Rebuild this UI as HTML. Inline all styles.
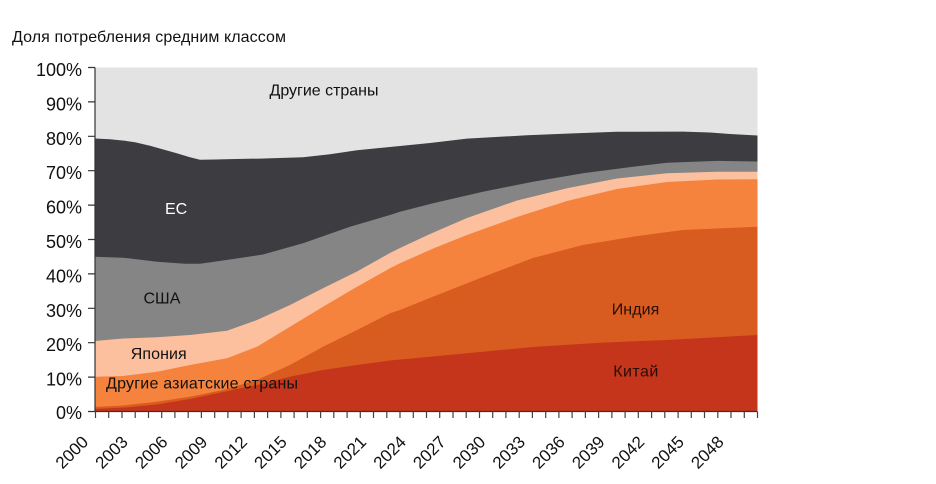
<!DOCTYPE html>
<html>
<head>
<meta charset="utf-8">
<style>
  html, body { margin: 0; padding: 0; background: #ffffff; }
  svg { display: block; }
  text { font-family: "Liberation Sans", "Noto Sans CJK SC", sans-serif; }
</style>
</head>
<body>
<svg width="936" height="484" viewBox="0 0 936 484" xmlns="http://www.w3.org/2000/svg">
  <rect x="0" y="0" width="936" height="484" fill="#ffffff"/>
  <text x="12" y="42" font-size="16" fill="#111" textLength="274" lengthAdjust="spacing">Доля потребления средним классом</text>

  <rect x="95" y="67.5" width="662.5" height="344" fill="#e3e3e3"/>
  <path fill="#3d3d41" d="M95,138.5 L110,139.3 L125,140.8 L135,142.3 L150,145.8 L175,152.8 L190,157.3 L200,159.8 L215,159.5 L230,159.1 L260,158.6 L303,157.3 L330,154.2 L357,150.3 L400,146 L430,143 L467,138.6 L500,136.8 L527,135.2 L573,133.4 L617,131.8 L683,131.6 L710,132.5 L730,134 L757.5,135.5 L757.5,411.5 L95,411.5 Z"/>
  <path fill="#858585" d="M95,256.7 L123,257.7 L157,261.7 L185,263.8 L200,263.8 L223,260.5 L263,254.5 L303,243.3 L350,226.7 L390,215 L400,211.7 L433,203.3 L483,191.7 L533,181.7 L583,173.3 L633,166.7 L667,162.7 L717,160.9 L757.5,161.5 L757.5,411.5 L95,411.5 Z"/>
  <path fill="#fcc09e" d="M95,341 L123,338.5 L157,337.3 L190,335 L227,330.7 L257,320 L290,305 L323,288.3 L357,271.5 L390,253 L400,248 L430,234 L467,218 L517,200.5 L567,188.3 L617,178.5 L667,173.3 L717,171.7 L757.5,171.7 L757.5,411.5 L95,411.5 Z"/>
  <path fill="#f5823d" d="M95,376.7 L123,376 L157,371.7 L190,365 L227,358.3 L257,346.7 L290,326.7 L323,306.7 L357,286.7 L390,268.3 L400,263.3 L432,249 L467,235 L517,217 L567,201 L617,189 L667,182 L717,179.5 L757.5,179.3 L757.5,411.5 L95,411.5 Z"/>
  <path fill="#d85b1f" d="M95,407 L123,405.5 L157,401.7 L190,396.7 L223,390 L257,380 L290,365 L323,346.7 L357,330 L390,313.3 L400,310 L431,297.5 L483,277 L533,258 L583,245 L633,236.7 L683,230 L757.5,226.7 L757.5,411.5 L95,411.5 Z"/>
  <path fill="#c4351b" d="M95,409 L125,407.5 L157,404.5 L190,399 L223,392 L257,385 L290,376.7 L323,370 L357,365 L390,360.5 L430,356.7 L467,353.3 L533,347 L600,342.7 L667,340 L757.5,335 L757.5,411.5 L95,411.5 Z"/>

  <path stroke="#333" stroke-width="1.2" fill="none" d="M95,67.5 V411.5 M88,411.5 H757.5 M88,67.5 H95 M88,101.9 H95 M88,136.3 H95 M88,170.7 H95 M88,205.1 H95 M88,239.5 H95 M88,273.9 H95 M88,308.3 H95 M88,342.7 H95 M88,377.1 H95"/>
  <path stroke="#444" stroke-width="1.2" fill="none" d="M95.5,411.5 v6.5 M108.7,411.5 v6.5 M122,411.5 v6.5 M135.2,411.5 v6.5 M148.5,411.5 v6.5 M161.7,411.5 v6.5 M174.9,411.5 v6.5 M188.2,411.5 v6.5 M201.4,411.5 v6.5 M214.7,411.5 v6.5 M227.9,411.5 v6.5 M241.1,411.5 v6.5 M254.4,411.5 v6.5 M267.6,411.5 v6.5 M280.9,411.5 v6.5 M294.1,411.5 v6.5 M307.3,411.5 v6.5 M320.6,411.5 v6.5 M333.8,411.5 v6.5 M347.1,411.5 v6.5 M360.3,411.5 v6.5 M373.5,411.5 v6.5 M386.8,411.5 v6.5 M400,411.5 v6.5 M413.3,411.5 v6.5 M426.5,411.5 v6.5 M439.7,411.5 v6.5 M453,411.5 v6.5 M466.2,411.5 v6.5 M479.5,411.5 v6.5 M492.7,411.5 v6.5 M505.9,411.5 v6.5 M519.2,411.5 v6.5 M532.4,411.5 v6.5 M545.7,411.5 v6.5 M558.9,411.5 v6.5 M572.1,411.5 v6.5 M585.4,411.5 v6.5 M598.6,411.5 v6.5 M611.9,411.5 v6.5 M625.1,411.5 v6.5 M638.3,411.5 v6.5 M651.6,411.5 v6.5 M664.8,411.5 v6.5 M678.1,411.5 v6.5 M691.3,411.5 v6.5 M704.5,411.5 v6.5 M717.8,411.5 v6.5 M731,411.5 v6.5 M744.3,411.5 v6.5 M757.5,411.5 v6.5"/>

  <g font-size="18" fill="#111" text-anchor="end">
    <text x="82" y="76">100%</text>
    <text x="82" y="110.4">90%</text>
    <text x="82" y="144.8">80%</text>
    <text x="82" y="179.2">70%</text>
    <text x="82" y="213.6">60%</text>
    <text x="82" y="248">50%</text>
    <text x="82" y="282.4">40%</text>
    <text x="82" y="316.8">30%</text>
    <text x="82" y="351.2">20%</text>
    <text x="82" y="385.6">10%</text>
    <text x="82" y="419">0%</text>
  </g>

  <g font-size="17" fill="#111" text-anchor="end">
    <text transform="translate(89.3,443) rotate(-45)">2000</text>
    <text transform="translate(129,443) rotate(-45)">2003</text>
    <text transform="translate(168.7,443) rotate(-45)">2006</text>
    <text transform="translate(208.5,443) rotate(-45)">2009</text>
    <text transform="translate(248.2,443) rotate(-45)">2012</text>
    <text transform="translate(287.9,443) rotate(-45)">2015</text>
    <text transform="translate(327.6,443) rotate(-45)">2018</text>
    <text transform="translate(367.3,443) rotate(-45)">2021</text>
    <text transform="translate(407.1,443) rotate(-45)">2024</text>
    <text transform="translate(446.8,443) rotate(-45)">2027</text>
    <text transform="translate(486.5,443) rotate(-45)">2030</text>
    <text transform="translate(526.2,443) rotate(-45)">2033</text>
    <text transform="translate(565.9,443) rotate(-45)">2036</text>
    <text transform="translate(605.7,443) rotate(-45)">2039</text>
    <text transform="translate(645.4,443) rotate(-45)">2042</text>
    <text transform="translate(685.1,443) rotate(-45)">2045</text>
    <text transform="translate(724.8,443) rotate(-45)">2048</text>
  </g>

  <g font-size="16">
    <text x="269.5" y="95.5" fill="#111" textLength="109" lengthAdjust="spacing">Другие страны</text>
    <text x="165" y="214" fill="#ffffff">ЕС</text>
    <text x="143.5" y="303.3" fill="#111">США</text>
    <text x="130.7" y="359" fill="#111" textLength="56" lengthAdjust="spacing">Япония</text>
    <text x="106" y="388.5" fill="#111" textLength="192" lengthAdjust="spacing">Другие азиатские страны</text>
    <text x="611.7" y="314.5" fill="#2a0d05" textLength="47.6" lengthAdjust="spacing">Индия</text>
    <text x="613.3" y="376.5" fill="#2a0d05" textLength="45" lengthAdjust="spacing">Китай</text>
  </g>
</svg>
</body>
</html>
